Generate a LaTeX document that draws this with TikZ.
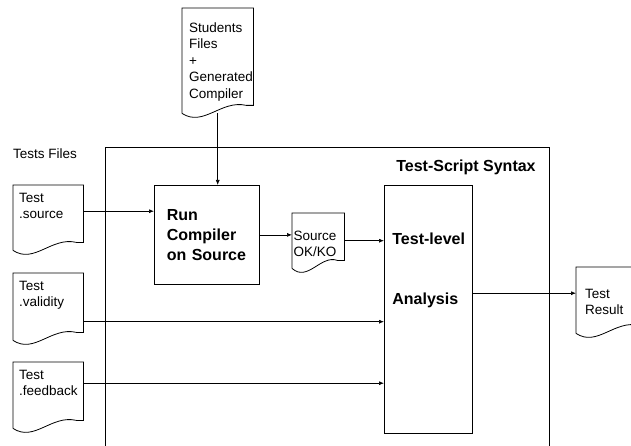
\documentclass[tikz,border=0pt]{standalone}
\usepackage{fontspec}
\setmainfont{Liberation Sans}
\usepackage{tikz}
\usetikzlibrary{arrows.meta, calc, positioning}
\hyphenpenalty=10000
\exhyphenpenalty=10000

\newcommand{\docfont}{\fontsize{13.5}{16.5}\selectfont}
\newcommand{\boxfont}{\fontsize{16}{20}\selectfont\bfseries}

\tikzset{
	docfile/.style={anchor=north west, align=left, inner ysep=0pt, font=\docfont},
	procbox/.style={draw, line width=0.8pt, anchor=north west, align=left, font=\boxfont},
	flow/.style={->, line width=0.7pt},
	>={Latex[length=5pt,width=4pt]}
}

\begin{document}
\begin{tikzpicture}[x=1pt, y=-1pt]
	\useasboundingbox (0,0) rectangle (631,446);
	% container
	\draw[line width=0.8pt] (105,446) |- (549,147) -- (549,446);
	\node[font=\boxfont] at (466,167) (syntax) {Test-Script Syntax};
	\node[font=\docfont, anchor=west, inner sep=0pt] at (13,154) (testsfiles) {Tests Files};

	% files
	\node[docfile, inner xsep=7pt, text width=57pt, text height=24pt, text depth=81pt] at (182,8) (stud) {Students\\Files\\+\\Generated\\Compiler};
	\node[docfile, inner xsep=6pt, text width=58pt, text height=17pt, text depth=48pt] at (13,185) (src) {Test\\.source};
	\node[docfile, inner xsep=6pt, text width=58pt, text height=17pt, text depth=50pt] at (13,273) (val) {Test\\.validity};
	\node[docfile, inner xsep=6pt, text width=58pt, text height=17pt, text depth=49pt] at (13,362) (fb) {Test\\.feedback};
	\node[docfile, inner xsep=1.5pt, text width=49pt, text height=27pt, text depth=28pt] at (292,213) (okko) {Source\\OK/KO};
	\node[docfile, inner xsep=9pt, text width=52pt, text height=31pt, text depth=35pt] at (576,267) (res) {Test\\Result};
	\foreach \d in {stud,src,val,fb,okko,res}
		\draw[line width=0.8pt] (\d.south west) -- (\d.north west) -- (\d.north east) -- ([yshift=8pt]\d.south east) -- ([xshift=-7pt,yshift=8pt]\d.south east)
			.. controls ($(\d.south west)!0.55!(\d.south east)+(0,-14)$) and ($(\d.south west)!0.3!(\d.south east)+(0,14)$) .. (\d.south west);

	% processing
	\node[procbox, inner xsep=12.5pt, text width=80pt, minimum height=99pt] at (154,185) (run) {Run\\Compiler\\on Source};
	\node[procbox, inner xsep=8pt, inner ysep=0pt, text width=72pt, text height=59pt, text depth=189pt] at (384,185) (ana) {Test-level\\[40pt]Analysis};

	\draw[flow] (stud.south) -- (stud.south |- run.north);
	\draw[flow] ([yshift=6.5pt]src.east) -- ([yshift=6.5pt]src.east -| run.west);
	\draw[flow] (run.east) -- (run.east -| okko.west);
	\draw[flow] (okko.east) -- (okko.east -| ana.west);
	\draw[flow] ([yshift=-15pt]val.east) -- ([yshift=-15pt]val.east -| ana.west);
	\draw[flow] ([yshift=12pt]fb.east) -- ([yshift=12pt]fb.east -| ana.west);
	\draw[flow] ([yshift=7pt]res.west -| ana.east) -- ([yshift=7pt]res.west);
\end{tikzpicture}
\end{document}
